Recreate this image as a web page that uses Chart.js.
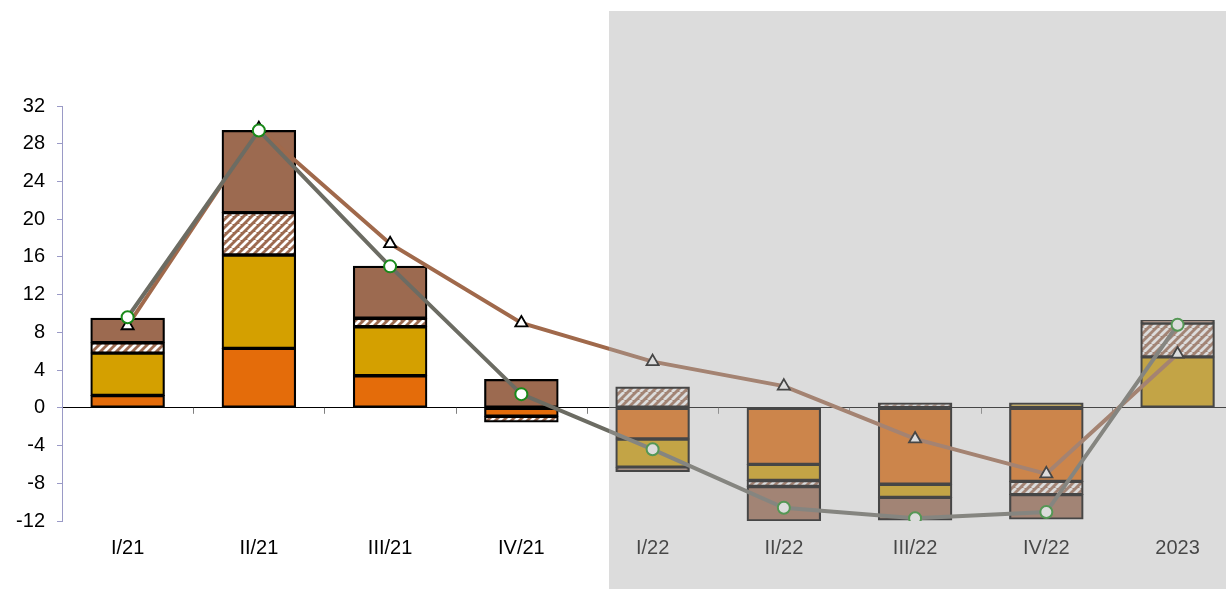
<!DOCTYPE html>
<html>
<head>
<meta charset="utf-8">
<title>Quarterly contributions</title>
<script src="https://cdn.jsdelivr.net/npm/chart.js@4.4.0/dist/chart.umd.min.js"></script>
<style>
  html, body { margin: 0; padding: 0; background: #fff; overflow: hidden; }
  #wrap { width: 1226px; height: 589px; overflow: hidden; }
</style>
</head>
<body>
<div id="wrap"><canvas id="chart" width="1252" height="589"></canvas></div>
<script>
// Categories and series
const periods = ['I/21', 'II/21', 'III/21', 'IV/21', 'I/22', 'II/22', 'III/22', 'IV/22', '2023'];
const orangePart = [1.3, 6.3, 3.4, -0.9, -3.3, -6.0, -8.1, -7.8, 0];
const goldPart = [4.5, 9.9, 5.2, 0, -3.0, -1.7, -1.4, 0.5, 5.4];
const hatchedPart = [1.1, 4.5, 0.9, -0.6, 2.2, -0.65, 0.5, -1.4, 3.6];
const brownPart = [2.6, 8.7, 5.5, 3.0, -0.45, -3.65, -2.4, -2.6, 0.25];
const triangleLine = [8.7, 29.6, 17.4, 9.0, 4.9, 2.3, -3.3, -7.0, 5.7];
const circleLine = [9.6, 29.4, 15.0, 1.45, -4.4, -10.6, -11.7, -11.05, 8.8];
const yTicks = [32, 28, 24, 20, 16, 12, 8, 4, 0, -4, -8, -12];
const firstForecast = 4;  // I/22 onwards sits in the shaded area

const FONT = { family: 'Liberation Sans, Arial, sans-serif', size: 20 };

// brown / white diagonal stripes
function makeHatch() {
    const n = 8;
    const c = document.createElement('canvas');
    c.width = n; c.height = n;
    const g = c.getContext('2d');
    g.fillStyle = '#9c6a50';
    g.fillRect(0, 0, n, n);
    g.strokeStyle = '#ffffff';
    g.lineWidth = 2.8;
    g.beginPath();
    for (let k = -n; k <= 2 * n; k += n) {
        g.moveTo(k, n);
        g.lineTo(k + n, 0);
    }
    g.stroke();
    return g.createPattern(c, 'repeat');
}

// small ticks along the zero line between categories
const zeroTicks = {
    id: 'zeroTicks',
    beforeDatasetsDraw(chart) {
        const { ctx, scales: { x, y } } = chart;
        const y0 = y.getPixelForValue(0);
        const step = x.getPixelForValue(1) - x.getPixelForValue(0);
        ctx.save();
        ctx.strokeStyle = '#808080';
        ctx.lineWidth = 1;
        for (let i = 0; i < periods.length; i++) {
            const px = Math.round(x.getPixelForValue(i) + step / 2) + 0.5;
            ctx.beginPath();
            ctx.moveTo(px, y0);
            ctx.lineTo(px, y0 + 6);
            ctx.stroke();
        }
        ctx.restore();
    }
};

// grey veil over the forecast period
const forecastShade = {
    id: 'forecastShade',
    afterDraw(chart) {
        const { ctx, scales: { x } } = chart;
        const step = x.getPixelForValue(1) - x.getPixelForValue(0);
        const left = Math.round(x.getPixelForValue(firstForecast - 1) + step * 0.67);
        ctx.save();
        ctx.fillStyle = 'rgba(170,170,170,0.41)';
        ctx.fillRect(left, 11, chart.width - left, chart.height - 11);
        ctx.restore();
    }
};

function barSet(label, data, color) {
    return {
        type: 'bar',
        label: label,
        data: data,
        backgroundColor: color,
        borderColor: '#000',
        borderWidth: 2.2,
        borderSkipped: false,
        inflateAmount: 0.5,
        stack: 'parts',
        order: 3,
        barPercentage: 0.56,
        categoryPercentage: 1
    };
}

const ctx = document.getElementById('chart').getContext('2d');
new Chart(ctx, {
    data: {
        labels: periods,
        datasets: [
            barSet('orange', orangePart, '#e46c0a'),
            barSet('gold', goldPart, '#d4a000'),
            barSet('hatched', hatchedPart, makeHatch()),
            barSet('brown', brownPart, '#9c6a50'),
            {
                type: 'line',
                label: 'triangles',
                data: triangleLine,
                stack: 'tri',
                order: 2,
                borderColor: '#a0694b',
                borderWidth: 4,
                tension: 0,
                pointStyle: 'triangle',
                pointRadius: 7,
                pointBackgroundColor: '#fff',
                pointBorderColor: '#000',
                pointBorderWidth: 1.8
            },
            {
                type: 'line',
                label: 'circles',
                data: circleLine,
                stack: 'circ',
                order: 1,
                borderColor: '#6c6c63',
                borderWidth: 4,
                tension: 0,
                pointStyle: 'circle',
                pointRadius: 6,
                pointBackgroundColor: '#fff',
                pointBorderColor: '#1a8a1a',
                pointBorderWidth: 2
            }
        ]
    },
    options: {
        responsive: false,
        animation: false,
        devicePixelRatio: 1,
        layout: { padding: { top: 106, right: 0, left: 0, bottom: 0 } },
        plugins: {
            legend: { display: false },
            tooltip: { enabled: false }
        },
        scales: {
            x: {
                stacked: true,
                offset: true,
                grid: { display: false, drawTicks: false },
                border: { display: false },
                ticks: { font: FONT, color: '#000', padding: 15, maxRotation: 0 },
                afterFit: s => { s.height = 68; }
            },
            y: {
                stacked: true,
                min: -12,
                max: 32,
                afterBuildTicks: s => { s.ticks = yTicks.map(v => ({ value: v })); },
                grid: {
                    drawOnChartArea: true,
                    color: c => (c.tick && c.tick.value === 0) ? '#000' : 'rgba(0,0,0,0)',
                    tickColor: '#9a9ac6',
                    tickLength: 5,
                    lineWidth: 1
                },
                border: { color: '#9a9ac6', width: 1 },
                ticks: { font: FONT, color: '#000', padding: 12 },
                afterFit: s => { s.width = 62; }
            }
        }
    },
    plugins: [zeroTicks, forecastShade]
});
</script>
</body>
</html>
